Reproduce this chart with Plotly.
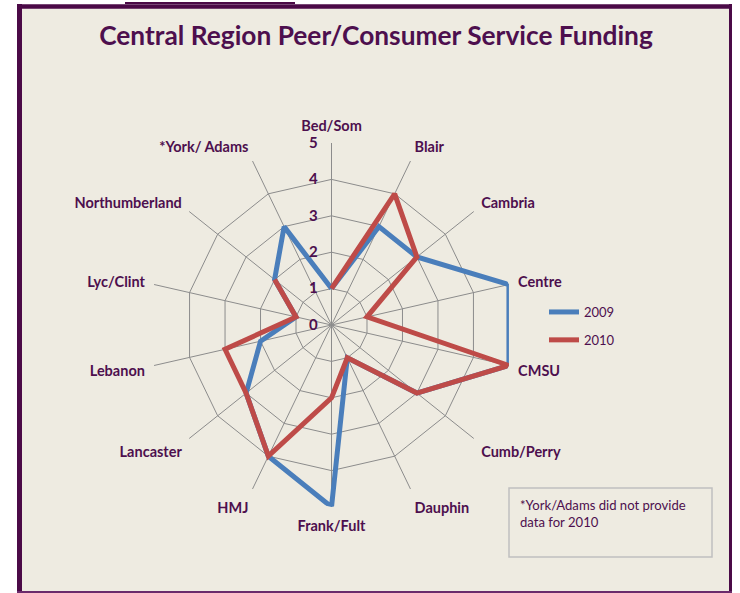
import plotly.graph_objects as go

categories = ["Bed/Som", "Blair", "Cambria", "Centre", "CMSU", "Cumb/Perry", "Dauphin",
              "Frank/Fult", "HMJ", "Lancaster", "Lebanon", "Lyc/Clint", "Northumberland",
              "*York/ Adams"]
values_2009 = [1, 3, 3, 5, 5, 3, 1, 5, 4, 3, 2, 1, 2, 3]
values_2010 = [1, 4, 3, 1, 5, 3, 1, 2, 4, 3, 3, 1, 2, None]
radial_ticks = [0, 1, 2, 3, 4, 5]

W, H = 740, 593
PURPLE = "#4D0F4E"
BORDER = "#4B0A47"
BG = "#EEEBE1"
FONT = "Lato"

def px(x):
    return x / W

def py(y):
    return 1 - y / H

fig = go.Figure()
fig.add_trace(go.Scatterpolar(
    r=values_2009 + [values_2009[0]], theta=categories + [categories[0]],
    mode="lines", name="2009", legendgroup="a", line=dict(color="#4A7EBB", width=5),
))
fig.add_trace(go.Scatterpolar(
    r=values_2010 + [values_2010[0]], theta=categories + [categories[0]],
    mode="lines", name="2010", legendgroup="b", line=dict(color="#BE4B48", width=5),
    connectgaps=False,
))

cx, cy, R = 331.5, 325, 182
fig.update_layout(
    width=W, height=H,
    margin=dict(l=0, r=0, t=0, b=0),
    paper_bgcolor="white",
    font=dict(family=FONT, color=PURPLE),
    title=dict(text="<b>Central Region Peer/Consumer Service Funding</b>",
               x=px(376), xanchor="center", y=py(36), yanchor="middle",
               font=dict(size=26.3, color=PURPLE, family=FONT)),
    polar=dict(
        domain=dict(x=[px(cx - R), px(cx + R)], y=[py(cy + R), py(cy - R)]),
        bgcolor="rgba(0,0,0,0)",
        gridshape="linear",
        angularaxis=dict(
            rotation=90, direction="clockwise",
            categoryorder="array", categoryarray=categories,
            tickvals=categories, ticktext=["<b>%s</b>" % c for c in categories],
            showline=False, gridcolor="#8C8C8C", gridwidth=1,
            ticks="outside", ticklen=6, tickcolor="rgba(0,0,0,0)",
            tickfont=dict(size=14.5, color=PURPLE, family=FONT),
        ),
        radialaxis=dict(
            range=[0, 5], tickvals=radial_ticks, ticktext=["<b>%d</b>" % t for t in radial_ticks],
            angle=90, side="counterclockwise", tickangle=90,
            showline=False, gridcolor="#8C8C8C", gridwidth=1,
            ticks="outside", ticklen=8, tickcolor="rgba(0,0,0,0)",
            tickfont=dict(size=15, color=PURPLE, family=FONT),
        ),
    ),
    legend=dict(x=px(544), y=py(297), xanchor="left", yanchor="top",
                bgcolor="rgba(0,0,0,0)", font=dict(size=13, color=PURPLE, family=FONT),
                itemwidth=30, tracegroupgap=8),
    shapes=[
        dict(type="rect", xref="paper", yref="paper", layer="below",
             x0=px(19), x1=px(730), y0=py(592), y1=py(6),
             fillcolor=BG, line=dict(width=0)),
        dict(type="line", xref="paper", yref="paper", x0=px(19.5), x1=px(19.5),
             y0=py(4), y1=py(593), line=dict(color=BORDER, width=5)),
        dict(type="line", xref="paper", yref="paper", x0=px(17), x1=px(732),
             y0=py(6.5), y1=py(6.5), line=dict(color=BORDER, width=4.5)),
        dict(type="line", xref="paper", yref="paper", x0=px(730.5), x1=px(730.5),
             y0=py(4), y1=py(593), line=dict(color=BORDER, width=3)),
        dict(type="line", xref="paper", yref="paper", x0=px(17), x1=px(732),
             y0=py(592), y1=py(592), line=dict(color="#6B2A6B", width=2)),
        dict(type="line", xref="paper", yref="paper",
             x0=px(125), x1=px(295), y0=py(3), y1=py(3),
             line=dict(color=BORDER, width=2)),
        dict(type="rect", xref="paper", yref="paper",
             x0=px(509), x1=px(712), y0=py(557), y1=py(488),
             fillcolor="rgba(0,0,0,0)", line=dict(color="#C0C0C0", width=1.5)),
    ],
    annotations=[
        dict(text="*York/Adams did not provide<br>data for 2010", xref="paper", yref="paper",
             x=px(518), y=py(495), xanchor="left", yanchor="top", align="left",
             showarrow=False, font=dict(size=13.1, color=PURPLE, family=FONT)),
    ],
)

fig.write_html("out.html", post_script="document.body.style.margin='0px';",
               config={"displayModeBar": False})
